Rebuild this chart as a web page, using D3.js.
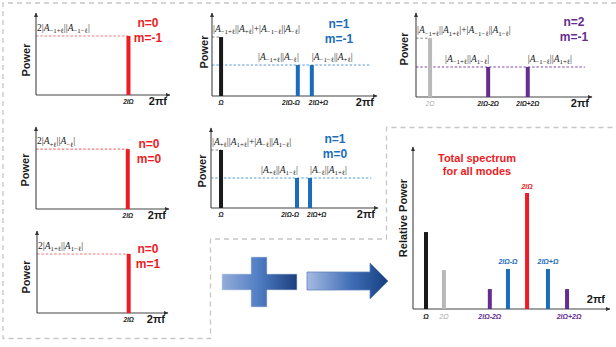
<!DOCTYPE html>
<html>
<head>
<meta charset="utf-8">
<script src="https://cdnjs.cloudflare.com/ajax/libs/d3/7.8.5/d3.min.js"></script>
<style>
  body { margin: 0; background: #fff; }
  svg { display: block; }
</style>
</head>
<body>
<svg id="chart" width="616" height="347"></svg>
<script>
// DATA
// six single-mode spectra: frequency position along the axis (0-100) and power (0-1 of axis)
const modeNames = [["n=0", "m=-1"], ["n=1", "m=-1"], ["n=2", "m=-1"], ["n=0", "m=0"], ["n=1", "m=0"], ["n=0", "m=1"]];
const modeFamily = ["n0", "n1", "n2", "n0", "n1", "n0"];
const modeBarKind = [["n0"], ["w", "n1", "n1"], ["w2", "n2", "n2"], ["n0"], ["w", "n1", "n1"], ["n0"]];
const modeTicks = [["2lΩ"], ["Ω", "2lΩ-Ω", "2lΩ+Ω"], ["2Ω", "2lΩ-2Ω", "2lΩ+2Ω"], ["2lΩ"], ["Ω", "2lΩ-Ω", "2lΩ+Ω"], ["2lΩ"]];
const modeFreq = [[69], [5.5, 52, 60.5], [8, 41, 63.5], [69], [6, 51.5, 59.3], [70]];
const modePower = [[0.72], [0.71, 0.373, 0.373], [0.70, 0.357, 0.357], [0.73], [0.725, 0.375, 0.375], [0.72]];
const modeAmps = [
  ["2|A_{-1+ℓ}||A_{-1-ℓ}|"],
  ["|A_{-1+ℓ}||A_{+ℓ}|+|A_{-1-ℓ}||A_{-ℓ}|", "|A_{-1+ℓ}||A_{-ℓ}|", "|A_{-1-ℓ}||A_{+ℓ}|"],
  ["|A_{-1+ℓ}||A_{1+ℓ}|+|A_{-1-ℓ}||A_{1-ℓ}|", "|A_{-1+ℓ}||A_{1-ℓ}|", "|A_{-1-ℓ}||A_{1+ℓ}|"],
  ["2|A_{+ℓ}||A_{-ℓ}|"],
  ["|A_{+ℓ}||A_{1+ℓ}|+|A_{-ℓ}||A_{1-ℓ}|", "|A_{+ℓ}||A_{1-ℓ}|", "|A_{-ℓ}||A_{1+ℓ}|"],
  ["2|A_{1+ℓ}||A_{1-ℓ}|"]
];

// total spectrum
const totalTicks = ["Ω", "2Ω", "2lΩ-2Ω", "2lΩ-Ω", "2lΩ", "2lΩ+Ω", "2lΩ+2Ω"];
const totalKind = ["w", "w2", "n2", "n1", "n0", "n1", "n2"];
const totalFreq = [6.6, 15.7, 39, 48.2, 57.9, 68.5, 78.2];
const totalPower = [0.475, 0.24, 0.123, 0.247, 0.716, 0.247, 0.123];

// STYLE / LAYOUT
const colors = { n0: "#ed1c24", n1: "#1b6dbb", n2: "#662d91", w: "#1a1a1a", w2: "#b9b9b9" };
const dashColors = { n0: "#f27b7b", n1: "#5b9bd5", n2: "#7b4aa6", w: "#999", w2: "#999" };

const layout = [
  { x0: 36,  x1: 170, top: 13,  bot: 95,  px: 29.5,  py: 60,  nx: 148, ny: 27, split: false },
  { x0: 212, x1: 377, top: 13,  bot: 96,  px: 208,   py: 52,  nx: 339, ny: 28, split: true },
  { x0: 416, x1: 592, top: 13,  bot: 97,  px: 408,   py: 49,  nx: 574, ny: 26, split: false },
  { x0: 36,  x1: 169, top: 127, bot: 209, px: 28.5,  py: 170, nx: 149, ny: 148, split: false },
  { x0: 211, x1: 378, top: 128, bot: 208, px: 205.5, py: 171, nx: 335, ny: 143, split: true },
  { x0: 37,  x1: 168, top: 231, bot: 313, px: 30,    py: 277, nx: 148, ny: 253, split: false }
];
const totalLayout = { x0: 413, x1: 610, top: 147, bot: 309, px: 406.5, py: 218 };

const sans = "'Liberation Sans', Arial, sans-serif";
const serif = "'Liberation Serif', 'Times New Roman', serif";
const barW = 4;
const mathSize = 9.5;

const svg = d3.select("#chart");

const defs = svg.append("defs");
defs.append("marker")
  .attr("id", "arrow")
  .attr("markerUnits", "userSpaceOnUse")
  .attr("markerWidth", 6).attr("markerHeight", 6)
  .attr("refX", 4).attr("refY", 2)
  .attr("orient", "auto")
  .append("path")
  .attr("d", "M0,0 L4.5,2 L0,4 Z")
  .attr("fill", "#333");

const gPlus = defs.append("linearGradient").attr("id", "gradPlus")
  .attr("gradientUnits", "userSpaceOnUse").attr("x1", 222).attr("x2", 297).attr("y1", 0).attr("y2", 0);
gPlus.append("stop").attr("offset", "0%").attr("stop-color", "#93acd9");
gPlus.append("stop").attr("offset", "50%").attr("stop-color", "#4f7cc2");
gPlus.append("stop").attr("offset", "100%").attr("stop-color", "#1a3f7e");

const gArrow = defs.append("linearGradient").attr("id", "gradArrow")
  .attr("gradientUnits", "userSpaceOnUse").attr("x1", 307).attr("x2", 388).attr("y1", 0).attr("y2", 0);
gArrow.append("stop").attr("offset", "0%").attr("stop-color", "#a6bbe2");
gArrow.append("stop").attr("offset", "55%").attr("stop-color", "#3f6db5");
gArrow.append("stop").attr("offset", "100%").attr("stop-color", "#163f80");

// dashed frame around the single-mode panels
svg.append("path")
  .attr("d", "M616,3 H3 V338.5 H210.5 V239 H386.5 V127.5 H616")
  .attr("fill", "none")
  .attr("stroke", "#c6c6c6")
  .attr("stroke-width", 1.3)
  .attr("stroke-dasharray", "5,4");

// math label like |A_{-1+ℓ}||A_{+ℓ}| -> tspans with italic A and subscripts
function mathText(sel, str, size) {
  const re = /_\{([^}]*)\}|(A)|([^_A]+)/g;
  let m, sub = false;
  while ((m = re.exec(str))) {
    if (m[1] !== undefined) {
      sel.append("tspan")
        .attr("font-size", size * 0.72)
        .attr("dy", size * 0.25)
        .text(m[1].replace(/-/g, "−"));
      sub = true;
    } else {
      const t = sel.append("tspan").attr("font-size", size);
      if (sub) { t.attr("dy", -size * 0.25); sub = false; }
      if (m[2]) t.attr("font-style", "italic");
      t.text(m[2] || m[3]);
    }
  }
}

function drawAxes(g, L, x, y, yLabel) {
  g.append("line")
    .attr("x1", x(0)).attr("y1", y(0)).attr("x2", x(0)).attr("y2", y(1))
    .attr("stroke", "#444").attr("stroke-width", 1.1).attr("marker-end", "url(#arrow)");
  g.append("line")
    .attr("x1", x(0)).attr("y1", y(0)).attr("x2", x(100)).attr("y2", y(0))
    .attr("stroke", "#444").attr("stroke-width", 1.1).attr("marker-end", "url(#arrow)");
  g.append("text")
    .attr("transform", `translate(${L.px},${L.py}) rotate(-90)`)
    .attr("text-anchor", "middle")
    .attr("font-family", sans).attr("font-weight", "bold").attr("font-size", 11)
    .attr("fill", "#1a1a1a")
    .text(yLabel);
}

// SINGLE MODE PANELS
layout.forEach((L, i) => {
  const g = svg.append("g");
  const x = d3.scaleLinear().domain([0, 100]).range([L.x0, L.x1]);
  const y = d3.scaleLinear().domain([0, 1]).range([L.bot, L.top]);
  const fam = modeFamily[i];
  const freqs = modeFreq[i], pows = modePower[i], kinds = modeBarKind[i];

  // dashed guide lines
  if (freqs.length === 1) {
    g.append("line")
      .attr("x1", x(0)).attr("x2", x(freqs[0])).attr("y1", y(pows[0])).attr("y2", y(pows[0]))
      .attr("stroke", dashColors[fam]).attr("stroke-width", 1.1).attr("stroke-dasharray", "2.5,1.8");
  } else {
    g.append("line")
      .attr("x1", x(0)).attr("x2", x(freqs[0])).attr("y1", y(pows[0])).attr("y2", y(pows[0]))
      .attr("stroke", "#888").attr("stroke-width", 1).attr("stroke-dasharray", "2.5,2");
    g.append("line")
      .attr("x1", x(0)).attr("x2", x(96)).attr("y1", y(pows[1])).attr("y2", y(pows[1]))
      .attr("stroke", dashColors[fam]).attr("stroke-width", 1).attr("stroke-dasharray", "2.5,1.8");
  }

  drawAxes(g, L, x, y, "Power");

  g.selectAll("rect.bar")
    .data(freqs)
    .enter().append("rect")
    .attr("class", "bar")
    .attr("x", d => x(d) - barW / 2)
    .attr("width", barW)
    .attr("y", (d, j) => y(pows[j]))
    .attr("height", (d, j) => y(0) - y(pows[j]))
    .attr("fill", (d, j) => colors[kinds[j]]);

  // tick labels under the axis (close pairs are pushed apart)
  g.selectAll("text.tick")
    .data(modeTicks[i])
    .enter().append("text")
    .attr("class", "tick")
    .attr("x", (d, j) => x(freqs[j]) + (L.split ? (j === 1 ? 2 : j === 2 ? -3 : 0) : 0))
    .attr("y", y(0) + 9)
    .attr("text-anchor", (d, j) => L.split ? (j === 1 ? "end" : j === 2 ? "start" : "middle") : "middle")
    .attr("font-family", sans).attr("font-style", "italic").attr("font-size", 6.5)
    .attr("font-weight", (d, j) => kinds[j] === "w2" ? "normal" : "bold")
    .attr("fill", (d, j) => kinds[j] === "w2" ? "#aaa" : "#222")
    .text(d => d);

  g.append("text")
    .attr("x", x(100) - 3).attr("y", y(0) + 10)
    .attr("text-anchor", "end")
    .attr("font-family", sans).attr("font-weight", "bold").attr("font-size", 11)
    .attr("fill", "#1a1a1a")
    .text("2πf");

  // mode name
  modeNames[i].forEach((t, k) => {
    g.append("text")
      .attr("x", L.nx).attr("y", L.ny + k * 14.5)
      .attr("text-anchor", "middle")
      .attr("font-family", sans).attr("font-weight", "bold").attr("font-size", 12)
      .attr("fill", colors[fam])
      .text(t);
  });

  // amplitude labels
  const amps = modeAmps[i];
  const t0 = g.append("text")
    .attr("x", x(0) + 1).attr("y", y(pows[0]) - 5)
    .attr("font-family", serif).attr("fill", "#222");
  mathText(t0, amps[0], mathSize);
  if (amps.length > 1) {
    const t1 = g.append("text")
      .attr("x", x(freqs[1]) + 1).attr("y", y(pows[1]) - 5)
      .attr("text-anchor", "end")
      .attr("font-family", serif).attr("fill", "#222");
    mathText(t1, amps[1], mathSize);
    const t2 = g.append("text")
      .attr("x", x(freqs[2])).attr("y", y(pows[2]) - 5)
      .attr("font-family", serif).attr("fill", "#222");
    mathText(t2, amps[2], mathSize);
  }
});

// PLUS AND ARROW
svg.append("path")
  .attr("d", "M222,274 H251 V257 H267 V274 H297 V290 H267 V307 H251 V290 H222 Z")
  .attr("fill", "url(#gradPlus)")
  .attr("stroke", "#c9d5ec").attr("stroke-width", 0.6);
svg.append("path")
  .attr("d", "M307,272 H370 V263 L388,281 L370,299 V290 H307 Z")
  .attr("fill", "url(#gradArrow)")
  .attr("stroke", "#5f83c2").attr("stroke-width", 0.8);

// TOTAL SPECTRUM
(function () {
  const L = totalLayout;
  const g = svg.append("g");
  const x = d3.scaleLinear().domain([0, 100]).range([L.x0, L.x1]);
  const y = d3.scaleLinear().domain([0, 1]).range([L.bot, L.top]);

  drawAxes(g, L, x, y, "Relative Power");

  g.selectAll("rect.bar")
    .data(totalFreq)
    .enter().append("rect")
    .attr("class", "bar")
    .attr("x", d => x(d) - barW / 2)
    .attr("width", barW)
    .attr("y", (d, j) => y(totalPower[j]))
    .attr("height", (d, j) => y(0) - y(totalPower[j]))
    .attr("fill", (d, j) => colors[totalKind[j]]);

  const labelColor = k => k === "w" ? "#222" : k === "w2" ? "#aaa" : colors[k];
  totalTicks.forEach((t, j) => {
    const k = totalKind[j];
    const above = k === "n0" || k === "n1";
    g.append("text")
      .attr("x", x(totalFreq[j]) + (k === "n2" && j > 4 ? 2 : 0))
      .attr("y", above ? y(totalPower[j]) - (k === "n0" ? 4 : 5) : y(0) + 10)
      .attr("text-anchor", "middle")
      .attr("font-family", sans).attr("font-style", "italic")
      .attr("font-weight", k === "w2" ? "normal" : "bold")
      .attr("font-size", 7)
      .attr("fill", labelColor(k))
      .text(t);
  });

  g.append("text")
    .attr("x", x(100) - 5).attr("y", y(0) - 6)
    .attr("text-anchor", "end")
    .attr("font-family", sans).attr("font-weight", "bold").attr("font-size", 11)
    .attr("fill", "#1a1a1a")
    .text("2πf");

  ["Total spectrum", "for all modes"].forEach((t, k) => {
    g.append("text")
      .attr("x", 477).attr("y", 162 + k * 13)
      .attr("text-anchor", "middle")
      .attr("font-family", sans).attr("font-weight", "bold").attr("font-size", 11)
      .attr("fill", colors.n0)
      .text(t);
  });
})();
</script>
</body>
</html>
